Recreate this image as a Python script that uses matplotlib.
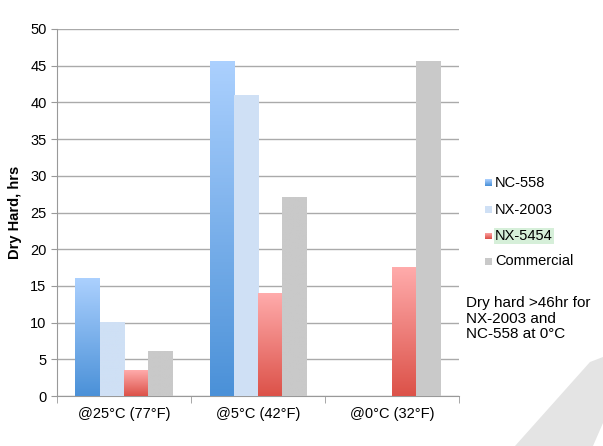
import numpy as np
import matplotlib
matplotlib.use('Agg')
import matplotlib.pyplot as plt
from matplotlib.patches import Rectangle, Polygon
from matplotlib.colors import LinearSegmentedColormap

categories = ['@25°C (77°F)', '@5°C (42°F)', '@0°C (32°F)']
series = ['NC-558', 'NX-2003', 'NX-5454', 'Commercial']
nc558 = [16, 45.5, 0]
nx2003 = [10, 41, 0]
nx5454 = [3.5, 14, 17.5]
commercial = [6, 27, 45.5]
values = [nc558, nx2003, nx5454, commercial]

# top colour, bottom colour for each series
colors = [('#abd0fe', '#4b91d8'), ('#cfe0f5', '#cfe0f5'),
          ('#ffabab', '#dc5249'), ('#c9c9c9', '#c9c9c9')]

plt.rcParams['font.family'] = ['Liberation Sans', 'DejaVu Sans']

fig = plt.figure(figsize=(6.03, 4.46), dpi=100)
ax = fig.add_axes([0.0945, 0.112, 0.667, 0.823])

n = len(series)
width = 0.181
x = np.arange(len(categories))
for i in range(n):
    cmap = LinearSegmentedColormap.from_list('g%d' % i, [colors[i][1], colors[i][0]])
    for j in range(len(categories)):
        v = values[i][j]
        if v <= 0:
            continue
        left = x[j] - 2 * width + i * width
        grad = np.linspace(0, 1, 100).reshape(-1, 1)
        ax.imshow(grad, extent=[left, left + width, 0, v], origin='lower',
                  cmap=cmap, aspect='auto', zorder=3)

ax.set_xlim(-0.5, len(categories) - 0.5)
ax.set_ylim(0, 50)
ax.set_yticks(range(0, 51, 5))
ax.set_xticks(x)
ax.set_xticklabels(categories, fontsize=10.5)
ax.set_xticks(np.arange(-0.5, len(categories)), minor=True)
ax.tick_params(axis='x', which='major', length=0, pad=8)
ax.tick_params(axis='x', which='minor', length=5, color='#999999')
ax.tick_params(axis='y', labelsize=10.5, length=4, color='#999999')
ax.grid(axis='y', color='#aaaaaa', linewidth=1, zorder=0)
ax.set_axisbelow(True)
for s in ['top', 'right']:
    ax.spines[s].set_visible(False)
for s in ['left', 'bottom']:
    ax.spines[s].set_color('#999999')
ax.set_ylabel('Dry Hard, hrs', fontsize=10.5, fontweight='bold', labelpad=6)

# legend drawn by hand
leg_y = [183, 210, 236, 261]
for i, name in enumerate(series):
    yy = 1 - leg_y[i] / 446
    cmap = LinearSegmentedColormap.from_list('l%d' % i, [colors[i][1], colors[i][0]])
    lax = fig.add_axes([485 / 603, yy - 3.5 / 446, 7 / 603, 7 / 446])
    lax.imshow(np.linspace(0, 1, 10).reshape(-1, 1), cmap=cmap, origin='lower', aspect='auto')
    lax.axis('off')
    bbox = None
    if name == 'NX-5454':
        bbox = dict(facecolor='#d6efd9', edgecolor='none', pad=1)
    fig.text(495 / 603, yy, name, fontsize=10.5, va='center', ha='left', bbox=bbox)

fig.text(466 / 603, 1 - 296 / 446, 'Dry hard >46hr for\nNX-2003 and\nNC-558 at 0°C',
         fontsize=11, va='top', ha='left', linespacing=1.15)

poly = Polygon([(515 / 603, 0), (590 / 603, 1 - 362 / 446), (603 / 603, 1 - 357 / 446),
                (603 / 603, 1 - 423 / 446), (593 / 603, 0)],
               closed=True, transform=fig.transFigure, facecolor='#e4e4e4',
               edgecolor='none', zorder=-1)
fig.patches.append(poly)

fig.savefig('out.png', dpi=100)
